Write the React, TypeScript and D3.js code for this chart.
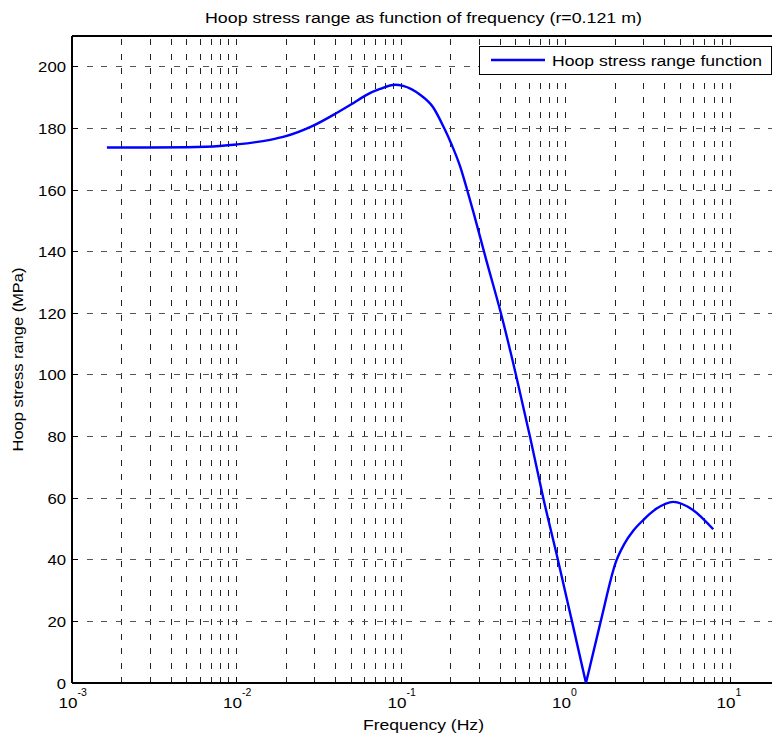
import React from "react";
import * as d3 from "d3";

const freqFall = [0.00163, 0.003, 0.005, 0.0079, 0.01, 0.016, 0.0197, 0.0293, 0.0406, 0.0502, 0.0618, 0.0745, 0.092, 0.103, 0.13, 0.157, 0.1826, 0.203, 0.229, 0.251, 0.275, 0.329, 0.405, 0.5, 0.608, 0.733, 0.899, 1.095, 1.332];
const stressFall = [173.8, 173.8, 173.9, 174.3, 174.8, 176.3, 177.4, 180.9, 185.0, 187.9, 190.9, 192.8, 194.2, 193.8, 191.0, 186.8, 180.2, 174.8, 167.6, 160.5, 153.0, 137.5, 120.0, 100.0, 80.0, 60.0, 40.0, 20.0, 0.0];
const freqRise = [1.332, 1.637, 2.03, 2.27, 2.58, 2.97, 3.58, 4.52, 5.98, 7.91];
const stressRise = [0.0, 20.0, 39.5, 45.0, 49.4, 52.9, 56.6, 58.8, 56.1, 49.9];
const yTicks = [0, 20, 40, 60, 80, 100, 120, 140, 160, 180, 200];
const decadeExps = [-3, -2, -1, 0, 1];

const title = "Hoop stress range as function of frequency (r=0.121 m)";
const xLabel = "Frequency (Hz)";
const yLabel = "Hoop stress range (MPa)";
const legendLabel = "Hoop stress range function";

export default function App() {
  const W = 772, H = 735;
  const left = 72, top = 36, bottom = 683, right = 775;
  const decadePx = 164.5;
  const xMax = Math.pow(10, (right - left) / decadePx - 3);
  const x = d3.scaleLog().domain([1e-3, xMax]).range([left, right]);
  const y = d3.scaleLinear().domain([0, 210]).range([bottom, top]);

  const minor: number[] = [];
  for (const e of [-3, -2, -1, 0]) {
    for (let k = 2; k <= 9; k++) minor.push(k * Math.pow(10, e));
  }
  const vGrid = [...decadeExps.map((e) => Math.pow(10, e)), ...minor].filter((v) => v > 1e-3 && v <= xMax);

  const fall: [number, number][] = freqFall.map((f, i) => [f, stressFall[i]]);
  const rise: [number, number][] = freqRise.map((f, i) => [f, stressRise[i]]);
  const line = d3.line<[number, number]>().x((d) => x(d[0])).y((d) => y(d[1])).curve(d3.curveMonotoneX);

  const font = "'Liberation Sans', Arial, sans-serif";
  const dash = "6,8.5";
  const fs = 15.5;

  return (
    <svg width={W} height={H} style={{ position: "absolute", left: 0, top: 0, background: "#fff" }} fontFamily={font}>
      <rect x={0} y={0} width={W} height={H} fill="#fff" />
      {vGrid.map((v, i) => (
        <line key={"v" + i} x1={x(v)} x2={x(v)} y1={bottom} y2={top} stroke="#222" strokeWidth={1} strokeDasharray={dash} shapeRendering="crispEdges" />
      ))}
      {yTicks.filter((t) => t > 0).map((t) => (
        <line key={"h" + t} x1={left} x2={right} y1={y(t)} y2={y(t)} stroke="#555" strokeWidth={1} strokeDasharray={dash} shapeRendering="crispEdges" />
      ))}
      <line x1={left} x2={right} y1={bottom} y2={bottom} stroke="#000" strokeWidth={1.2} shapeRendering="crispEdges" />
      <line x1={left} x2={right} y1={top} y2={top} stroke="#000" strokeWidth={1.2} shapeRendering="crispEdges" />
      <line x1={left} x2={left} y1={top} y2={bottom} stroke="#000" strokeWidth={1.2} shapeRendering="crispEdges" />
      {yTicks.map((t) => (
        <g key={"yt" + t}>
          <line x1={left} x2={left + 6} y1={y(t)} y2={y(t)} stroke="#000" shapeRendering="crispEdges" />
          <text x={left - 6} y={y(t)} dy="0.36em" textAnchor="end" fontSize={fs} fill="#000"
            textLength={String(t).length * 9.3} lengthAdjust="spacingAndGlyphs">{t}</text>
        </g>
      ))}
      {decadeExps.map((e) => (
        <g key={"xt" + e}>
          <line x1={x(Math.pow(10, e))} x2={x(Math.pow(10, e))} y1={bottom} y2={bottom - 6} stroke="#000" shapeRendering="crispEdges" />
          <text x={x(Math.pow(10, e)) - 13.5} y={708} fontSize={fs} fill="#000" textLength={19} lengthAdjust="spacingAndGlyphs">10</text>
          <text x={x(Math.pow(10, e)) + 5.5} y={696} fontSize={10.5} fill="#000">{String(e)}</text>
        </g>
      ))}
      <path d={line(fall) || ""} fill="none" stroke="#0000ff" strokeWidth={2.4} strokeLinejoin="round" />
      <path d={line(rise) || ""} fill="none" stroke="#0000ff" strokeWidth={2.4} strokeLinejoin="round" />
      <rect x={479} y={46} width={292} height={28} fill="#fff" stroke="#000" strokeWidth={1} shapeRendering="crispEdges" />
      <line x1={491} x2={545} y1={60} y2={60} stroke="#0000ff" strokeWidth={2.4} />
      <text x={552} y={60} dy="0.36em" fontSize={fs} fill="#000" textLength={210} lengthAdjust="spacingAndGlyphs">{legendLabel}</text>
      <text x={(left + right) / 2} y={23} textAnchor="middle" fontSize={fs} fill="#000" textLength={437} lengthAdjust="spacingAndGlyphs">{title}</text>
      <text x={(left + right) / 2} y={730} textAnchor="middle" fontSize={fs} fill="#000" textLength={121} lengthAdjust="spacingAndGlyphs">{xLabel}</text>
      <text transform={`translate(23, ${(top + bottom) / 2}) rotate(-90)`} textAnchor="middle" fontSize={fs} fill="#000"
        textLength={184} lengthAdjust="spacingAndGlyphs">{yLabel}</text>
    </svg>
  );
}
